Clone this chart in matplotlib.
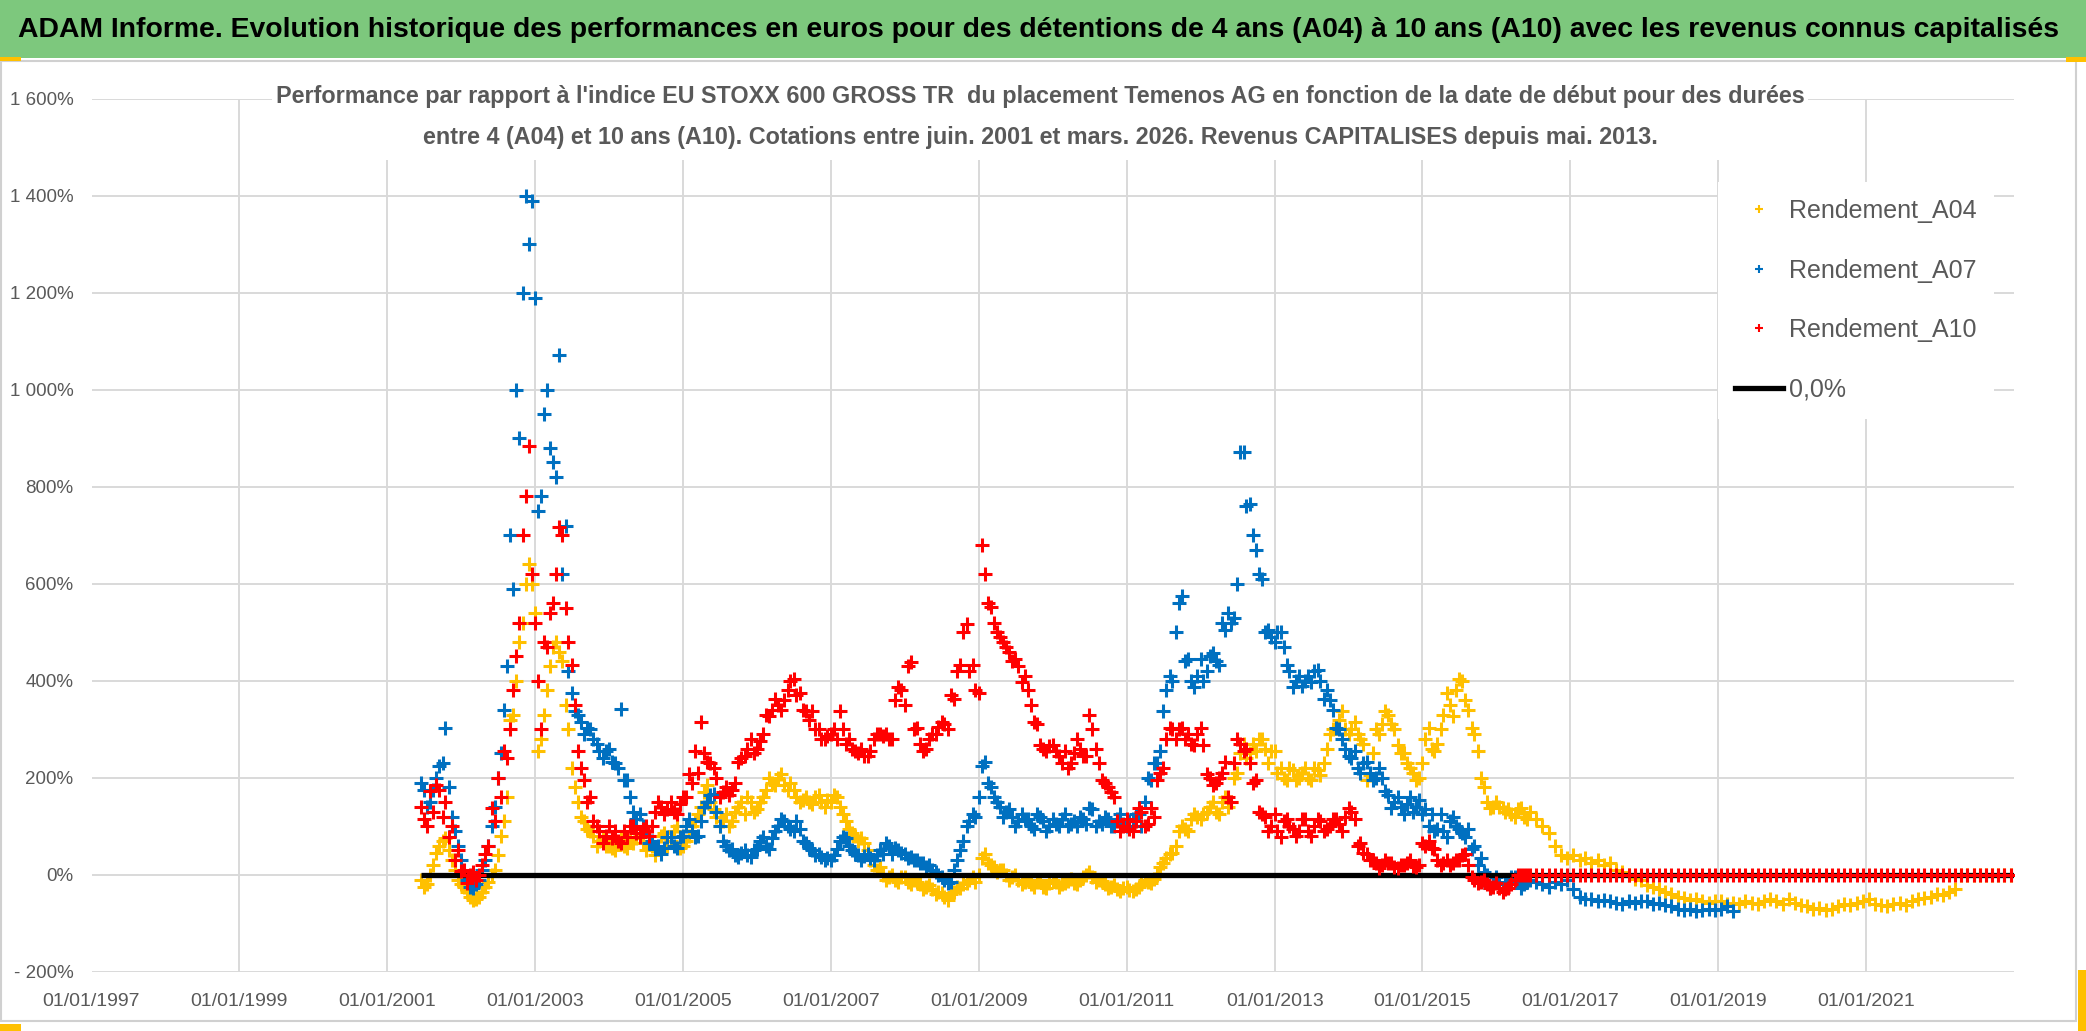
import numpy as np
import pandas as pd
import matplotlib
matplotlib.use('Agg')
import matplotlib.pyplot as plt
from matplotlib.patches import Rectangle
from matplotlib.lines import Line2D
from matplotlib.ticker import FuncFormatter, MultipleLocator

plt.rcParams['font.family'] = ['Liberation Sans', 'DejaVu Sans']

W, H = 2086, 1031

title = ("ADAM Informe. Evolution historique des performances en euros pour des détentions "
         "de 4 ans (A04) à 10 ans (A10) avec les revenus connus capitalisés")
subtitle_1 = ("Performance par rapport à l'indice EU STOXX 600 GROSS TR  du placement Temenos AG "
              "en fonction de la date de début pour des durées")
subtitle_2 = ("entre 4 (A04) et 10 ans (A10). Cotations entre juin. 2001 et mars. 2026. "
              "Revenus CAPITALISES depuis mai. 2013.")

# mid-month readings (%), first month = June 2001
start_month = '2001-06'
rend_a04 = [
    -10, -20, 20, 60, 75, 30, -10,                                  # 2001
    -25, -45, -50, -35, -15, 10, 80, 160, 330, 480, 600, 600,       # 2002
    255, 330, 430, 480, 440, 300, 180, 120, 95, 80, 70, 60,         # 2003
    55, 65, 60, 70, 75, 65, 70, 40, 80, 60, 90, 55,                 # 2004
    70, 100, 125, 170, 150, 120, 110, 100, 130, 150, 160, 130,      # 2005
    150, 175, 190, 200, 185, 190, 160, 155, 150, 160, 150, 155,     # 2006
    165, 140, 110, 85, 70, 65, 30, 10, 0, -5, -10, -5,              # 2007
    -15, -10, -20, -25, -30, -35, -45, -40, -25, -20, -10, -15,     # 2008
    35, 25, 15, 10, 0, -5, -10, -15, -20, -15, -25, -17,            # 2009
    -15, -20, -12, -18, -10, 0, -5, -10, -20, -25, -30, -28,        # 2010
    -32, -30, -20, -15, -8, 15, 35, 45, 90, 95, 115, 120,           # 2011
    125, 140, 130, 150, 140, 200, 250, 240, 270, 280, 260, 255,     # 2012
    210, 200, 220, 195, 210, 200, 220, 205, 260, 300, 320, 300,     # 2013
    300, 290, 270, 205, 300, 310, 330, 300, 250, 230, 210, 200,     # 2014
    280, 260, 270, 330, 350, 380, 400, 340, 290, 200, 150, 140,     # 2015
    140, 130, 125, 135, 120, 130, 115, 100, 85, 60, 40, 35,         # 2016
    40, 30, 35, 25, 30, 20, 25, 10, 5, 0, -8, -10,                  # 2017
    -22, -25, -30, -35, -40, -45, -48, -52, -50, -55, -58, -55,     # 2018
    -55, -60, -58, -60, -55, -58, -60, -55, -50, -55, -60, -50,     # 2019
    -58, -62, -65, -70, -68, -72, -70, -65, -60, -62, -58, -55,     # 2020
    -50, -60, -62, -65, -60, -58, -62, -55, -50, -48, -45, -40,     # 2021
    -42, -35, -30, 0, 0, 0, 0, 0, 0, 0, 0, 0,                       # 2022
]
rend_a07 = [
    190, 140, 175, 225, 303, 120, 60,                               # 2001
    0, -25, -20, 10, 60, 140, 250, 430, 590, 900, 1400, 1390,       # 2002
    750, 950, 880, 820, 620, 420, 338, 315, 303, 280, 255, 255,     # 2003
    232, 220, 196, 160, 114, 100, 66, 54, 43, 78, 60, 78,           # 2004
    100, 90, 80, 140, 165, 130, 70, 50, 40, 45, 40, 50,             # 2005
    70, 60, 75, 100, 110, 95, 110, 70, 55, 40, 37, 35,              # 2006
    40, 70, 75, 50, 40, 38, 35, 40, 42, 60, 55, 45,                 # 2007
    35, 30, 25, 15, 10, 0, -10, -15, 30, 70, 110, 120,              # 2008
    225, 190, 160, 140, 130, 120, 110, 115, 100, 125, 110, 100,     # 2009
    105, 115, 100, 110, 120, 105, 135, 110, 120, 100, 115, 105,     # 2010
    110, 125, 100, 200, 230, 255, 380, 400, 560, 440, 400, 410,     # 2011
    400, 450, 440, 520, 540, 530, 871, 760, 700, 620, 500, 490,     # 2012
    500, 470, 420, 400, 390, 410, 420, 400, 380, 340, 300, 260,     # 2013
    240, 220, 230, 210, 200, 200, 165, 150, 140, 145, 130, 155,     # 2014
    135, 125, 95, 90, 110, 100, 85, 95, 60, 35, 0, -15,             # 2015
    -20, -15, -5, -15, -20, -10, -15, -20, -25, -15, -20, -10,      # 2016
    -30, -45, -50, -50, -55, -52, -55, -58, -60, -55, -58, -55,     # 2017
    -55, -60, -58, -62, -65, -70, -72, -70, -75, -72, -70, -72,     # 2018
    -70, -65, -75,                                                  # 2019
]
rend_a10 = [
    140, 100, 130, 175, 150, 100, 50,                               # 2001
    10, 0, -10, 20, 60, 110, 160, 240, 380, 520, 780, 620,          # 2002
    400, 480, 540, 620, 700, 480, 350, 220, 150, 110, 90, 80,       # 2003
    75, 70, 90, 100, 85, 95, 80, 130, 140, 135, 130, 145,           # 2004
    160, 190, 210, 250, 230, 200, 170, 165, 190, 240, 260, 250,     # 2005
    275, 330, 340, 350, 360, 400, 370, 340, 320, 300, 280, 285,     # 2006
    300, 338, 270, 260, 250, 245, 255, 290, 285, 280, 360, 380,     # 2007
    430, 300, 270, 260, 290, 305, 310, 370, 420, 500, 420, 380,     # 2008
    680, 560, 520, 490, 470, 440, 430, 410, 350, 310, 260, 265,     # 2009
    255, 230, 220, 250, 260, 245, 300, 230, 190, 170, 110, 100,     # 2010
    95, 110, 130, 105, 120, 210, 280, 300, 300, 280, 270, 290,      # 2011
    267, 200, 190, 210, 160, 230, 270, 260, 190, 130, 120, 100,     # 2012
    90, 110, 100, 80, 115, 90, 100, 110, 95, 115, 105, 120,         # 2013
    130, 60, 45, 30, 25, 20, 25, 15, 20, 25, 18, 20,                # 2014
    60, 55, 30, 25, 20, 30, 40, 20, -10, -15, -20, -25,             # 2015
    -28, -30, -20, 0, 0, 0, 0, 0, 0, 0, 0, 0,                       # 2016
    0, 0, 0, 0, 0, 0, 0, 0, 0, 0, 0, 0,                             # 2017
    0, 0, 0, 0, 0, 0, 0, 0, 0, 0, 0, 0,                             # 2018
    0, 0, 0, 0, 0, 0, 0, 0, 0, 0, 0, 0,                             # 2019
    0, 0, 0, 0, 0, 0, 0, 0, 0, 0, 0, 0,                             # 2020
    0, 0, 0, 0, 0, 0, 0, 0, 0, 0, 0, 0,                             # 2021
    0, 0, 0, 0, 0, 0, 0, 0, 0, 0, 0, 0,                             # 2022
]

# second reading per month (1st of month, other edge of the noisy band), July 2001 - June 2016
start_month_2 = '2001-07-01'
band_a04 = [
    -25, 0, 45, 70, 50, 10,                                         # 2001
    -20, -35, -52, -45, -25, 0, 40, 110, 320, 400, 520, 640,        # 2002
    540, 280, 380, 470, 460, 350, 220, 150, 110, 90, 60, 75,        # 2003
    60, 50, 75, 55, 65, 80, 50, 60, 55, 85, 70, 100,                # 2004
    60, 80, 110, 140, 184, 135, 100, 125, 110, 140, 125, 150,       # 2005
    135, 160, 200, 185, 208, 175, 175, 150, 160, 145, 165, 140,     # 2006
    150, 160, 125, 95, 80, 75, 50, 20, 15, -10, 0, -15,             # 2007
    -5, -20, -15, -30, -22, -40, -38, -52, -35, -28, -18, -5,       # 2008
    0, 43, 20, 5, 10, -10, 0, -20, -10, -25, -10, -28,              # 2009
    -10, -25, -17, -8, -20, -5, 5, -15, -12, -28, -22, -34,         # 2010
    -25, -34, -25, -10, -17, 0, 25, 43, 60, 100, 90, 125,           # 2011
    114, 130, 149, 125, 160, 150, 210, 270, 250, 255, 280, 230,     # 2012
    255, 220, 196, 215, 200, 220, 196, 215, 230, 290, 303, 338,     # 2013
    290, 315, 280, 196, 250, 291, 338, 310, 267, 250, 220, 196,     # 2014
    230, 303, 255, 300, 374, 327, 403, 360, 303, 255, 180, 137,     # 2015
    149, 137, 135, 120, 137, 114,                                   # 2016
]
band_a07 = [
    175, 150, 200, 230, 180, 90,                                    # 2001
    30, -10, -28, -10, 30, 100, 200, 340, 700, 1000, 1200, 1300,    # 2002
    1190, 780, 1000, 850, 1072, 720, 374, 330, 290, 300, 270, 240,  # 2003
    260, 230, 342, 196, 130, 125, 90, 70, 60, 55, 78, 55,           # 2004
    80, 114, 78, 110, 149, 167, 100, 60, 54, 37, 50, 37,            # 2005
    54, 78, 54, 90, 114, 100, 90, 95, 66, 50, 43, 31,               # 2006
    31, 54, 78, 60, 43, 31, 43, 31, 50, 66, 43, 50,                 # 2007
    43, 37, 31, 25, 19, 5, -5, -17, 10, 50, 100, 125,               # 2008
    160, 232, 180, 149, 120, 135, 100, 125, 114, 95, 120, 90,       # 2009
    114, 100, 125, 105, 100, 114, 137, 100, 105, 114, 100, 125,     # 2010
    100, 114, 125, 150, 196, 230, 338, 410, 500, 575, 445, 386,     # 2011
    445, 420, 457, 433, 504, 520, 600, 871, 764, 670, 610, 504,     # 2012
    480, 500, 433, 386, 410, 400, 398, 422, 362, 360, 303, 280,     # 2013
    244, 255, 210, 232, 196, 220, 172, 137, 160, 125, 161, 140,     # 2014
    125, 100, 90, 125, 78, 120, 95, 78, 54, 20, 5, -28,             # 2015
    -5, -28, -20, -5, -28, -15,                                     # 2016
]
band_a10 = [
    114, 172, 184, 120, 78, 30,                                     # 2001
    7, -17, 5, 0, 43, 137, 200, 255, 300, 450, 700, 883,            # 2002
    520, 300, 470, 560, 717, 550, 433, 255, 196, 161, 100, 66,      # 2003
    100, 90, 66, 78, 100, 78, 100, 100, 149, 125, 149, 125,         # 2004
    161, 208, 255, 315, 232, 220, 161, 180, 175, 232, 244, 280,     # 2005
    260, 290, 328, 362, 340, 380, 403, 374, 338, 338, 300, 280,     # 2006
    291, 280, 300, 280, 255, 260, 244, 280, 291, 291, 280, 386,     # 2007
    350, 439, 303, 255, 280, 291, 315, 300, 362, 433, 516, 433,     # 2008
    374, 620, 551, 500, 480, 460, 445, 398, 380, 315, 267, 255,     # 2009
    267, 244, 255, 230, 280, 244, 330, 260, 196, 180, 161, 90,      # 2010
    114, 90, 137, 100, 137, 196, 220, 303, 280, 303, 290, 267,      # 2011
    303, 208, 184, 200, 232, 149, 280, 255, 230, 196, 125, 90,      # 2012
    125, 78, 114, 95, 90, 114, 80, 114, 90, 100, 114, 90,           # 2013
    137, 114, 66, 43, 31, 13, 31, 25, 13, 20, 31, 15,               # 2014
    66, 70, 54, 19, 31, 25, 31, 43, -5, -17, -10, -28,              # 2015
    -17, -35, -28, -10, 0, 0,                                       # 2016
]

zero_dates = ['2001-06-15', '2022-12-31']
zero_values = [0.0, 0.0]

x_ticks = ['%d-01-01' % y for y in range(1997, 2022, 2)]
x_min, x_max = '1997-01-01', '2023-01-01'

series = [
    ('Rendement_A04', rend_a04, band_a04, '#FFC000', 2),
    ('Rendement_A07', rend_a07, band_a07, '#0070C0', 3),
    ('Rendement_A10', rend_a10, band_a10, '#FF0000', 5),
]

fig = plt.figure(figsize=(W / 100, H / 100), dpi=100)
fig.patch.set_facecolor('white')

# green banner
fig.patches.append(Rectangle((0, 1 - 58 / H), 1, 58 / H, transform=fig.transFigure,
                             facecolor='#7DC87D', edgecolor='none', zorder=0))
# chart frame
fig.patches.append(Rectangle((1 / W, 1 - 1021 / H), 2075 / W, (1021 - 61) / H,
                             transform=fig.transFigure, facecolor='none',
                             edgecolor='#D0D0D0', lw=1.5, zorder=0))

ax = fig.add_axes([91.5 / W, (H - 971.7) / H, 1922.5 / W, 873 / H])
for name, vals, band, col, z in series:
    x = list(pd.date_range(start_month, periods=len(vals), freq='MS') + pd.Timedelta(days=14))
    x += list(pd.date_range(start_month_2, periods=len(band), freq='MS'))
    y = list(vals) + list(band)
    ax.plot(x, y, ls='none', marker='+', ms=10, mew=2.2, color=col, zorder=z)
ax.plot(pd.to_datetime(zero_dates), zero_values, color='black', lw=3.8, zorder=4,
        solid_capstyle='butt')

ax.set_ylim(-200, 1600)
ax.yaxis.set_major_locator(MultipleLocator(200))
ax.yaxis.set_major_formatter(FuncFormatter(
    lambda v, p: ('- ' if v < 0 else '') + '{:,.0f}%'.format(abs(v)).replace(',', ' ')))
ax.set_xlim(pd.Timestamp(x_min), pd.Timestamp(x_max))
ax.set_xticks(pd.to_datetime(x_ticks))
ax.set_xticklabels([pd.Timestamp(t).strftime('%d/%m/%Y') for t in x_ticks])
ax.grid(True, color='#D9D9D9', lw=1.4)
ax.set_axisbelow(True)
for s in ax.spines.values():
    s.set_visible(False)
ax.tick_params(axis='both', length=0, colors='#595959')
ax.tick_params(axis='x', labelsize=14, pad=15)
ax.tick_params(axis='y', labelsize=13.5, pad=13)

# legend
handles = [Line2D([], [], ls='none', marker='+', ms=6, mew=1.5, color=c)
           for _, _, _, c, _ in series]
handles.append(Line2D([], [], color='black', lw=3.8))
labels = [s[0] for s in series] + ['0,0%']
leg = ax.legend(handles, labels, loc='upper left', bbox_to_anchor=(0.846, 0.905),
                borderaxespad=0, frameon=True, fancybox=False, facecolor='white',
                edgecolor='none', framealpha=1, fontsize=18, labelcolor='#595959',
                handlelength=1.9, handletextpad=0.25, labelspacing=1.42, borderpad=0.7)
leg.set_zorder(6)

# subtitle with white background over the gridlines
fig.patches.append(Rectangle((272 / W, 1 - 160 / H), (1808 - 272) / W, (160 - 72) / H,
                             transform=fig.transFigure, facecolor='white',
                             edgecolor='none', zorder=2))
t_title = fig.text(1039 / W, 1 - 30 / H, title, ha='center', va='center', fontsize=26,
                   fontweight='bold', color='black', zorder=3)
t_s1 = fig.text(1040 / W, 1 - 97 / H, subtitle_1, ha='center', va='center', fontsize=17,
                fontweight='bold', color='#595959', zorder=3)
t_s2 = fig.text(1040 / W, 1 - 137 / H, subtitle_2, ha='center', va='center', fontsize=17,
                fontweight='bold', color='#595959', zorder=3)

# fit text widths
fig.canvas.draw()
r = fig.canvas.get_renderer()
tw = t_title.get_window_extent(r).width
t_title.set_fontsize(26 * 2042 / tw)
sw = t_s2.get_window_extent(r).width
fs = 17 * 1237 / sw
t_s1.set_fontsize(fs)
t_s2.set_fontsize(fs)

# selection handle marks seen in the screenshot
for (x0, y0, w, h) in [(0, 1024, 21, 7), (0, 57, 21, 4), (2078, 970, 8, 61), (2066, 57, 20, 5)]:
    fig.patches.append(Rectangle((x0 / W, 1 - (y0 + h) / H), w / W, h / H,
                                 transform=fig.transFigure, facecolor='#FFC000',
                                 edgecolor='none', zorder=4))

fig.savefig('out.png', dpi=100)
